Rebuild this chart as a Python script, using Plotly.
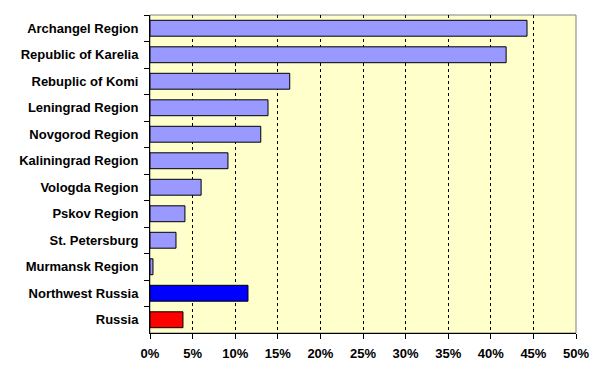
import plotly.graph_objects as go

categories = ["Archangel Region", "Republic of Karelia", "Rebuplic of Komi", "Leningrad Region",
              "Novgorod Region", "Kaliningrad Region", "Vologda Region", "Pskov Region",
              "St. Petersburg", "Murmansk Region", "Northwest Russia", "Russia"]
values = [44.25, 41.8, 16.4, 13.85, 13.0, 9.15, 6.0, 4.1, 3.05, 0.35, 11.5, 3.87]
bar_colors = ["#9999FF"] * 10 + ["#0000FF", "#FF0000"]
x_ticks = [0, 5, 10, 15, 20, 25, 30, 35, 40, 45, 50]
x_tick_labels = [f"{v}%" for v in x_ticks]

font = dict(family="Liberation Sans, Arial, sans-serif", size=13, color="black", weight="bold")

fig = go.Figure(go.Bar(
    x=values, y=categories, orientation="h",
    marker=dict(color=bar_colors, line=dict(color="black", width=1)),
    hoverinfo="skip",
))

# page body has an 8px default margin, so the figure is sized to fit the window
fig.update_layout(
    width=597, height=371,
    margin=dict(l=142, r=29, t=7, b=46),
    paper_bgcolor="white", plot_bgcolor="#FFFFCC",
    bargap=0.4, showlegend=False,
    font=font,
    shapes=[dict(type="rect", xref="x domain", yref="y domain", x0=0, x1=1, y0=0, y1=1,
                 line=dict(color="#808080", width=1), fillcolor="rgba(0,0,0,0)", layer="below")],
)
fig.update_xaxes(
    range=[0, 50], tickvals=x_ticks, ticktext=x_tick_labels,
    showgrid=True, gridcolor="black", gridwidth=1, griddash="3px,3px",
    showline=True, linecolor="black", linewidth=1,
    ticks="outside", ticklen=5, tickcolor="black", tickfont=font,
    zeroline=False, ticklabelstandoff=3,
)
fig.update_yaxes(
    autorange="reversed", showgrid=False,
    showline=True, linecolor="black", linewidth=1,
    ticks="outside", ticklen=5, tickcolor="black", tickson="boundaries",
    tickfont=font, ticklabelstandoff=8,
)

fig.write_html("out.html")
